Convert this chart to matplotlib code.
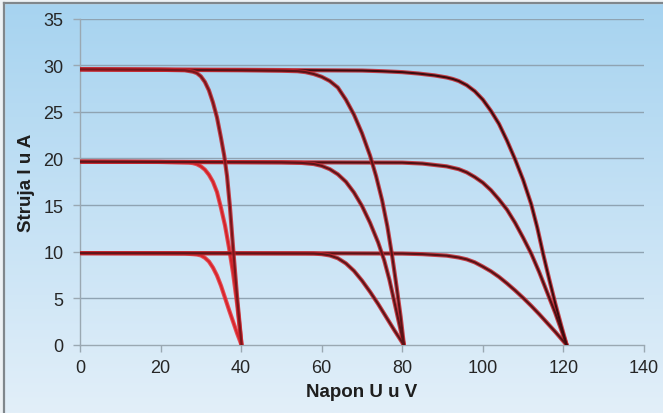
import numpy as np
import matplotlib
matplotlib.use("Agg")
import matplotlib.pyplot as plt
from matplotlib.lines import Line2D

plt.rcParams['font.family'] = ['Liberation Sans', 'DejaVu Sans']

# I-V curves: voltage (V) and current (A) pairs for each array configuration
# one module in series (~40 V)
v_40_10 = [0, 20, 26, 28, 29, 30, 31, 32, 33, 34, 35, 36, 37, 38, 39, 40.1]
i_40_10 = [9.85, 9.82, 9.8, 9.74, 9.7, 9.6, 9.35, 8.95, 8.3, 7.45, 6.35, 5.05, 3.75, 2.5, 1.25, 0]
v_40_20 = [0, 20, 27, 28, 29, 30, 31, 32, 33, 34, 35, 36, 37, 38, 39, 40.1]
i_40_20 = [19.65, 19.62, 19.55, 19.5, 19.38, 19.15, 18.8, 18.25, 17.5, 16.4, 14.7, 12.8, 10.4, 7.7, 4.4, 0]
v_40_30 = [0, 20, 26, 28, 29, 30, 31, 32, 33, 34, 35, 35.8, 36.5, 37.2, 38, 39, 40.1]
i_40_30 = [29.55, 29.5, 29.45, 29.3, 29.15, 28.8, 28.2, 27.3, 26.0, 24.4, 22.2, 20.3, 18.1, 14.9, 10.4, 5.1, 0]

# two modules in series (~80 V)
v_80_10 = [0, 40, 56, 58, 60, 62, 64, 66, 68, 70, 72, 74, 76, 78, 80.4]
i_80_10 = [9.85, 9.83, 9.81, 9.8, 9.74, 9.6, 9.3, 8.75, 7.95, 6.9, 5.7, 4.4, 3.0, 1.6, 0]
v_80_20 = [0, 40, 50, 55, 58, 60, 62, 64, 66, 68, 70, 72, 74, 75.5, 76.8, 78, 79.2, 80.4]
i_80_20 = [19.65, 19.6, 19.58, 19.52, 19.4, 19.2, 18.85, 18.3, 17.5, 16.35, 14.9, 13.1, 11.0,
           9.1, 7.0, 4.7, 2.35, 0]
v_80_30 = [0, 40, 50, 54, 56, 58, 60, 62, 64, 66, 68, 70, 72, 73.5, 75, 76.3, 77.5, 78.6,
           79.6, 80.4]
i_80_30 = [29.55, 29.45, 29.4, 29.35, 29.25, 29.05, 28.75, 28.3, 27.6, 26.3, 24.7, 22.7, 20.3,
           18.1, 15.5, 12.7, 9.5, 6.2, 3.0, 0]

# three modules in series (~120 V)
v_120_10 = [0, 60, 80, 85, 88, 91, 94, 96, 98, 100, 102, 104, 106, 108, 110, 112, 114, 116,
            118, 120.8]
i_120_10 = [9.85, 9.83, 9.8, 9.74, 9.66, 9.58, 9.38, 9.18, 8.86, 8.4, 7.9, 7.3, 6.6, 5.85, 5.05,
            4.2, 3.3, 2.35, 1.4, 0]
v_120_20 = [0, 40, 80, 85, 88, 91, 94, 96, 98, 100, 102, 104, 106, 108, 110, 112, 114, 116,
            118, 120.8]
i_120_20 = [19.65, 19.6, 19.55, 19.45, 19.3, 19.15, 18.85, 18.5, 18.0, 17.4, 16.6, 15.6, 14.5,
            13.1, 11.5, 9.8, 7.8, 5.6, 3.4, 0]
v_120_30 = [0, 40, 70, 75, 80, 84, 88, 91, 92.5, 94, 96, 98, 100, 102, 104, 106, 108, 110, 112,
            113.5, 115, 116.5, 118, 119.5, 120.8]
i_120_30 = [29.55, 29.5, 29.42, 29.35, 29.25, 29.1, 28.9, 28.68, 28.52, 28.3, 27.85, 27.2, 26.3,
            25.1, 23.7, 21.9, 19.9, 17.7, 15.1, 12.6, 9.7, 7.0, 4.4, 2.0, 0]

x_ticks = [0, 20, 40, 60, 80, 100, 120, 140]
y_ticks = [0, 5, 10, 15, 20, 25, 30, 35]
x_label = "Napon U u V"
y_label = "Struja I u A"

W, H = 663, 414
fig = plt.figure(figsize=(W / 100, H / 100), dpi=100)

# soft blue vertical gradient behind the chart
bg = fig.add_axes([0, 0, 1, 1], zorder=-10)
top = np.array([166, 211, 240]) / 255
bot = np.array([226, 239, 249]) / 255
t = np.linspace(0, 1, 256)[:, None]
grad = top[None, :] * (1 - t) + bot[None, :] * t
grad = np.repeat(grad[:, None, :], 2, axis=1)
bg.imshow(grad, aspect='auto', extent=[0, 1, 0, 1], origin='upper')
bg.set_xlim(0, 1)
bg.set_ylim(0, 1)
bg.axis('off')
# thin light margin and grey frame along top and left
bg.fill_between([0, 1], 1 - 3.5 / H, 1, color='#eef2f5', zorder=2)
bg.fill_between([0, 4 / W], 0, 1, color='#eef2f5', zorder=2)
fig.add_artist(Line2D([4 / W, 1], [1 - 3.5 / H, 1 - 3.5 / H], transform=fig.transFigure,
                      color='#80878c', lw=1.6))
fig.add_artist(Line2D([4 / W, 4 / W], [0, 1 - 3.5 / H], transform=fig.transFigure,
                      color='#80878c', lw=1.6))

x0, x1 = 80, 644
y0, y1 = 346, 19.5
ax = fig.add_axes([x0 / W, 1 - y0 / H, (x1 - x0) / W, (y0 - y1) / H])
ax.set_facecolor('none')
ax.set_xlim(0, 140)
ax.set_ylim(0, 35)

grid_c = '#8fa3b2'
for yv in y_ticks[1:]:
    ax.axhline(yv, color=grid_c, lw=1.0, zorder=1)

for s in ['top', 'right']:
    ax.spines[s].set_visible(False)
ax.spines['left'].set_color('#9aa8b2')
ax.spines['bottom'].set_color('#9aa8b2')
ax.spines['left'].set_linewidth(1.0)
ax.spines['bottom'].set_linewidth(1.0)

ax.set_xticks(x_ticks)
ax.set_yticks(y_ticks)
ax.tick_params(axis='both', colors='#9aa8b2', length=5, width=1.0, direction='out',
               labelsize=13, labelcolor='#262626')
ax.tick_params(axis='y', pad=7)
ax.tick_params(axis='x', pad=5)

ax.set_xlabel(x_label, fontsize=13.5, fontweight='bold', color='#1e1e1e', labelpad=5)
ax.set_ylabel(y_label, fontsize=13.5, fontweight='bold', color='#1e1e1e', labelpad=6)


def curve(v, i, core, halo, z):
    ax.plot(v, i, color=halo, lw=3.0, solid_capstyle='round', solid_joinstyle='round',
            alpha=0.85, zorder=z)
    ax.plot(v, i, color=core, lw=1.5, solid_capstyle='round', solid_joinstyle='round',
            zorder=z + 0.5)


halo = '#c4242b'
curve(v_40_10, i_40_10, '#d9252c', '#e8353b', 2)
curve(v_40_20, i_40_20, '#d22329', '#e8353b', 2)
curve(v_120_10, i_120_10, '#571216', halo, 3)
curve(v_120_20, i_120_20, '#4f1013', halo, 3)
curve(v_120_30, i_120_30, '#3c0b0e', halo, 3)
curve(v_80_10, i_80_10, '#5e1418', halo, 4)
curve(v_80_20, i_80_20, '#5e1418', halo, 4)
curve(v_80_30, i_80_30, '#5a1317', halo, 4)
curve(v_40_30, i_40_30, '#7a161b', halo, 5)

fig.savefig('out.png', dpi=100)
